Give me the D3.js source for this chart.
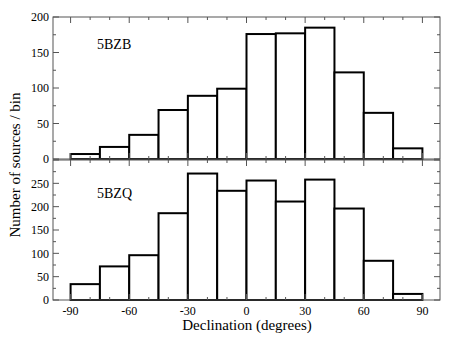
<!DOCTYPE html>
<html><head><meta charset="utf-8">
<script src="https://cdn.jsdelivr.net/npm/d3@7"></script>
<style>body{margin:0;background:#fff}svg{display:block}</style>
</head><body>
<script>
const binEdges = [-90,-75,-60,-45,-30,-15,0,15,30,45,60,75,90];
const countsBZB = [7,17,34,69,89,99,176,177,185,122,65,15];
const countsBZQ = [34,72,96,186,271,234,256,211,258,196,84,13];
const xTicks = [-90,-60,-30,0,30,60,90];
const yTicksTop = [0,50,100,150,200];
const yTicksBot = [0,50,100,150,200,250];

const W=458,H=354;
const svg=d3.select("body").append("svg").attr("width",W).attr("height",H);
const font="'Liberation Serif','Times New Roman',serif";
const x=d3.scaleLinear().domain([-99,99]).range([53,440]);

const panels=[
  {name:"5BZB",data:countsBZB,top:17,bottom:159,ymax:200,ticks:yTicksTop,labelY:49},
  {name:"5BZQ",data:countsBZQ,top:160,bottom:300,ymax:300,ticks:yTicksBot,labelY:198}
];
panels.forEach((p,pi)=>{
  const y=d3.scaleLinear().domain([0,p.ymax]).range([p.bottom,p.top]);
  const g=svg.append("g");
  // bars
  g.selectAll("rect.bar").data(p.data).join("rect")
    .attr("x",(d,i)=>x(binEdges[i]))
    .attr("width",(d,i)=>x(binEdges[i+1])-x(binEdges[i]))
    .attr("y",d=>y(d)).attr("height",d=>y(0)-y(d))
    .attr("fill","#fff").attr("stroke","#000").attr("stroke-width",2);
  const frameCol="#555";
  // ticks
  const xMinor=d3.range(-90,91,10);
  const yMinor=d3.range(0,p.ymax+1,25);
  xMinor.forEach(v=>{
    const len = v%30===0?6:3;
    g.append("line").attr("x1",x(v)).attr("x2",x(v)).attr("y1",p.bottom).attr("y2",p.bottom-len).attr("stroke",frameCol);
    g.append("line").attr("x1",x(v)).attr("x2",x(v)).attr("y1",p.top).attr("y2",p.top+len).attr("stroke",frameCol);
  });
  yMinor.forEach(v=>{
    const len = v%50===0?6:3;
    g.append("line").attr("x1",x.range()[0]).attr("x2",x.range()[0]+len).attr("y1",y(v)).attr("y2",y(v)).attr("stroke",frameCol);
    g.append("line").attr("x1",x.range()[1]).attr("x2",x.range()[1]-len).attr("y1",y(v)).attr("y2",y(v)).attr("stroke",frameCol);
  });
  // frame
  g.append("rect").attr("x",x.range()[0]).attr("y",p.top).attr("width",x.range()[1]-x.range()[0]).attr("height",p.bottom-p.top)
    .attr("fill","none").attr("stroke",frameCol).attr("stroke-width",1);
  // y labels
  g.selectAll("text.yl").data(p.ticks).join("text")
    .attr("x",49).attr("y",d=>y(d)).attr("dy","0.35em").attr("text-anchor","end")
    .attr("font-family",font).attr("font-size",12).text(d=>d);
  g.append("text").attr("x",97).attr("y",p.labelY).attr("font-family",font).attr("font-size",14).text(p.name);
});
svg.selectAll("text.xl").data(xTicks).join("text")
  .attr("x",d=>x(d)).attr("y",315).attr("text-anchor","middle")
  .attr("font-family",font).attr("font-size",12).text(d=>d);
svg.append("text").attr("x",247).attr("y",330).attr("text-anchor","middle")
  .attr("font-family",font).attr("font-size",15).text("Declination (degrees)");
svg.append("text").attr("transform","translate(20,165) rotate(-90)").attr("text-anchor","middle")
  .attr("font-family",font).attr("font-size",15).text("Number of sources / bin");
</script>
</body></html>
